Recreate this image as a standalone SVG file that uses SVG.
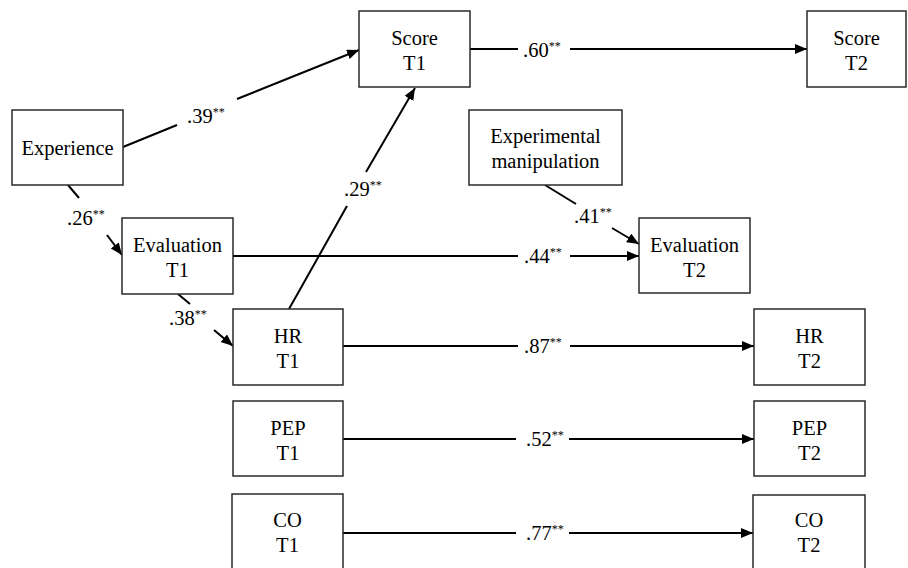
<svg xmlns="http://www.w3.org/2000/svg" width="908" height="568" viewBox="0 0 908 568">
<style>
text{font-family:"Liberation Serif",serif}
.box{fill:#fff;stroke:#2a2a2a;stroke-width:1.5}
.t{font-size:20.5px;fill:#000;text-anchor:middle}
.lbl{font-size:20.5px;fill:#000}
.sup{font-size:12px}
.e{stroke:#000;stroke-width:2;fill:none}
.a{marker-end:url(#arr)}
</style>
<defs>
<marker id="arr" markerUnits="userSpaceOnUse" markerWidth="14" markerHeight="12" refX="12" refY="5" orient="auto">
<path d="M0,0 L12,5 L0,10 z" fill="#000"/>
</marker>
</defs>
<rect width="908" height="568" fill="#fff"/>
<g id="connectors">
<line class="e" x1="123" y1="147" x2="177" y2="125"/>
<line class="e a" x1="237" y1="99" x2="359" y2="50"/>
<line class="e" x1="470" y1="49" x2="518" y2="49"/>
<line class="e a" x1="570" y1="49" x2="807" y2="49"/>
<line class="e" x1="289" y1="309" x2="347" y2="206"/>
<line class="e a" x1="366" y1="172" x2="415" y2="88"/>
<line class="e" x1="68" y1="185" x2="79" y2="198"/>
<line class="e a" x1="107" y1="235" x2="122" y2="255"/>
<line class="e" x1="178" y1="294" x2="190" y2="304"/>
<line class="e a" x1="214" y1="330" x2="233" y2="346"/>
<line class="e" x1="545" y1="185" x2="576" y2="204"/>
<line class="e a" x1="612" y1="228" x2="639" y2="244"/>
<line class="e" x1="233" y1="256" x2="518" y2="256"/>
<line class="e a" x1="570" y1="256" x2="639" y2="256"/>
<line class="e" x1="343" y1="346" x2="518" y2="346"/>
<line class="e a" x1="570" y1="346" x2="754" y2="346"/>
<line class="e" x1="343" y1="439" x2="516" y2="439"/>
<line class="e a" x1="569" y1="439" x2="754" y2="439"/>
<line class="e" x1="343" y1="533" x2="516" y2="533"/>
<line class="e a" x1="569" y1="533" x2="753" y2="533"/>
<text class="lbl" x="187" y="123" style="font-family:'Liberation Serif',serif">.39<tspan class="sup" dy="-7">**</tspan></text>
<text class="lbl" x="523" y="57">.60<tspan class="sup" dy="-7">**</tspan></text>
<text class="lbl" x="344" y="196">.29<tspan class="sup" dy="-7">**</tspan></text>
<text class="lbl" x="67" y="225">.26<tspan class="sup" dy="-7">**</tspan></text>
<text class="lbl" x="169" y="325">.38<tspan class="sup" dy="-7">**</tspan></text>
<text class="lbl" x="574" y="223">.41<tspan class="sup" dy="-7">**</tspan></text>
<text class="lbl" x="524" y="263">.44<tspan class="sup" dy="-7">**</tspan></text>
<text class="lbl" x="524" y="353">.87<tspan class="sup" dy="-7">**</tspan></text>
<text class="lbl" x="526" y="446">.52<tspan class="sup" dy="-7">**</tspan></text>
<text class="lbl" x="526" y="540">.77<tspan class="sup" dy="-7">**</tspan></text>
</g>
<g id="score-t1"><rect class="box" x="359" y="11" width="111" height="76"/><text class="t" x="414.5" y="45">Score</text><text class="t" x="414.5" y="70">T1</text></g>
<g id="score-t2"><rect class="box" x="807" y="11" width="99" height="76"/><text class="t" x="856.5" y="45">Score</text><text class="t" x="856.5" y="70">T2</text></g>
<g id="experience"><rect class="box" x="12" y="110" width="111" height="75"/><text class="t" x="67.5" y="155">Experience</text></g>
<g id="experimental-manipulation"><rect class="box" x="469" y="110" width="153" height="75"/><text class="t" x="545.5" y="143">Experimental</text><text class="t" x="545.5" y="168">manipulation</text></g>
<g id="evaluation-t1"><rect class="box" x="122" y="218" width="111" height="76"/><text class="t" x="177.5" y="252">Evaluation</text><text class="t" x="177.5" y="277">T1</text></g>
<g id="evaluation-t2"><rect class="box" x="639" y="218" width="111" height="75"/><text class="t" x="694.5" y="252">Evaluation</text><text class="t" x="694.5" y="277">T2</text></g>
<g id="hr-t1"><rect class="box" x="233" y="309" width="110" height="76"/><text class="t" x="288" y="343">HR</text><text class="t" x="288" y="368">T1</text></g>
<g id="hr-t2"><rect class="box" x="754" y="309" width="111" height="76"/><text class="t" x="809.5" y="343">HR</text><text class="t" x="809.5" y="368">T2</text></g>
<g id="pep-t1"><rect class="box" x="233" y="401" width="110" height="75"/><text class="t" x="288" y="435">PEP</text><text class="t" x="288" y="460">T1</text></g>
<g id="pep-t2"><rect class="box" x="754" y="401" width="111" height="75"/><text class="t" x="809.5" y="435">PEP</text><text class="t" x="809.5" y="460">T2</text></g>
<g id="co-t1"><rect class="box" x="232" y="494" width="111" height="76"/><text class="t" x="287.5" y="527">CO</text><text class="t" x="287.5" y="552">T1</text></g>
<g id="co-t2"><rect class="box" x="753" y="495" width="112" height="76"/><text class="t" x="809" y="527">CO</text><text class="t" x="809" y="552">T2</text></g>
</svg>
